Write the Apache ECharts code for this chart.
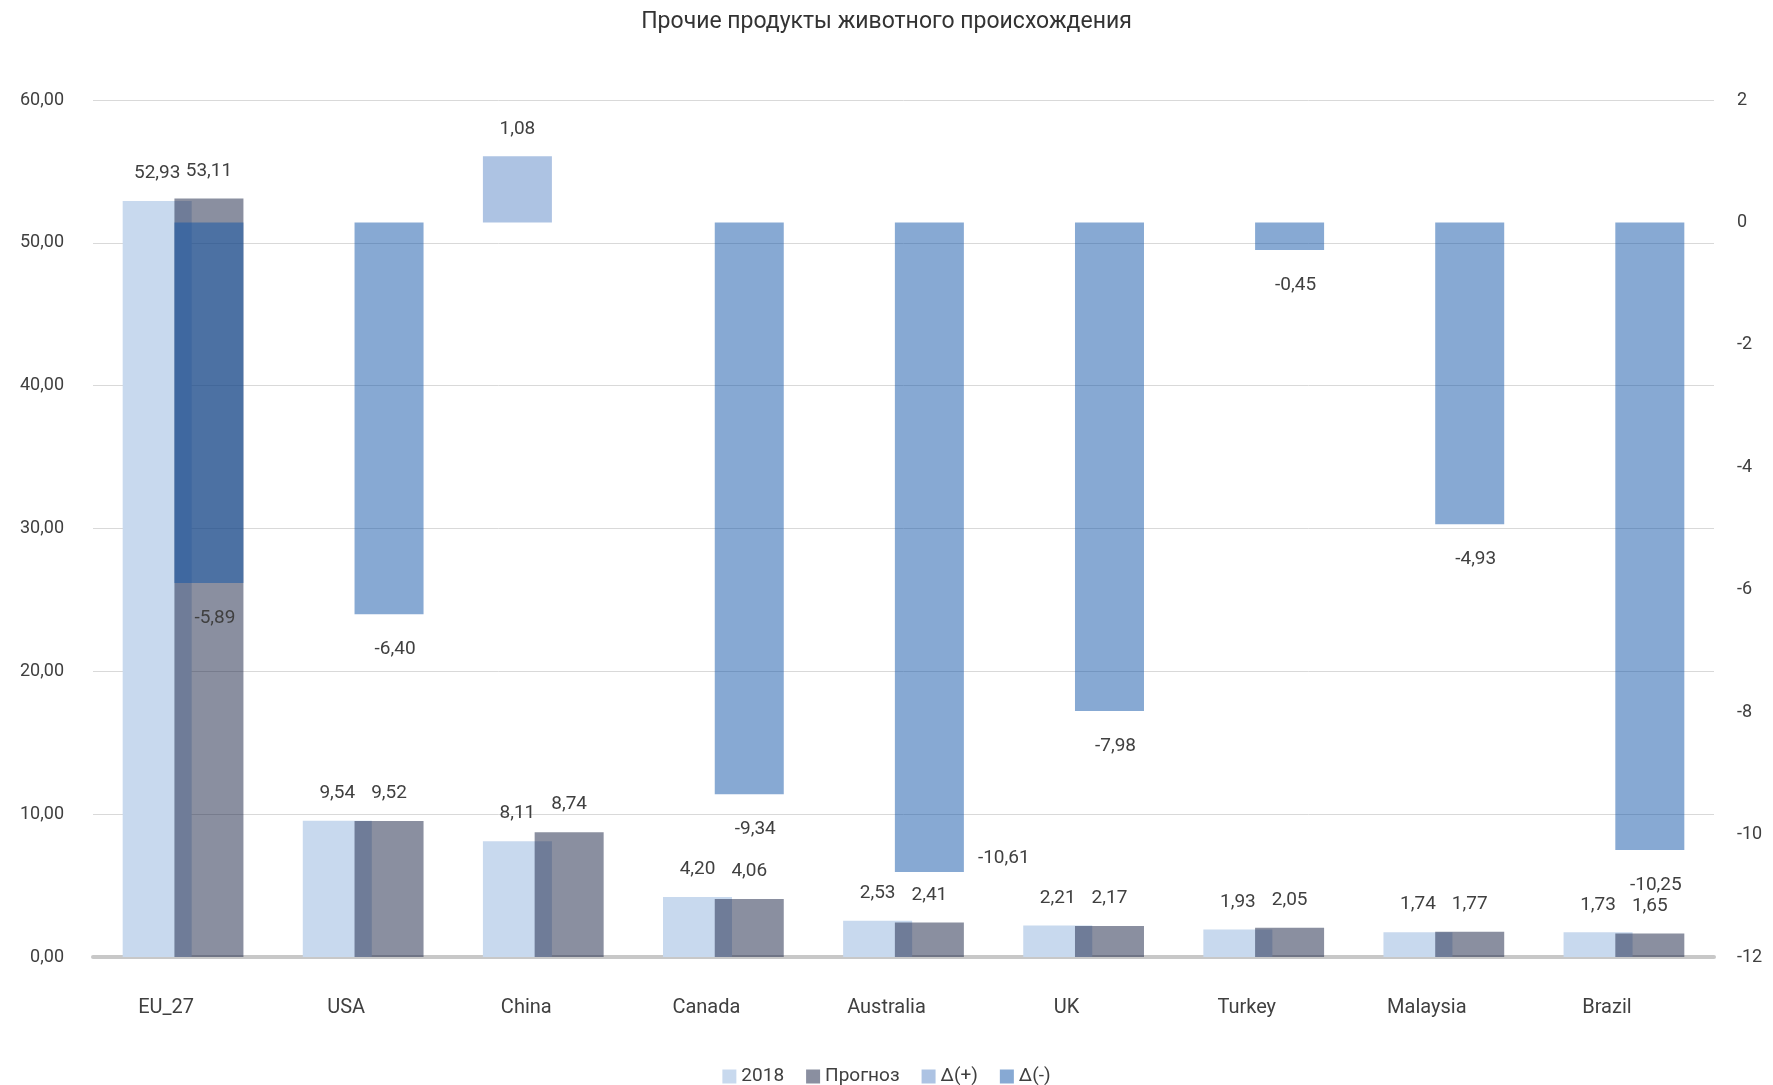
<!DOCTYPE html>
<html>
<head>
<meta charset="utf-8">
<script src="https://cdn.jsdelivr.net/npm/echarts@6/dist/echarts.min.js"></script>
<style>
  html, body { margin: 0; padding: 0; background: #fff; }
  #chart { width: 1773px; height: 1085px; }
</style>
</head>
<body>
<div id="chart"></div>
<script>
const countries = ['EU_27', 'USA', 'China', 'Canada', 'Australia', 'UK', 'Turkey', 'Malaysia', 'Brazil']
const base2018 = [52.93, 9.54, 8.11, 4.20, 2.53, 2.21, 1.93, 1.74, 1.73]
const forecast = [53.11, 9.52, 8.74, 4.06, 2.41, 2.17, 2.05, 1.77, 1.65]
const deltaPlus = ['-', '-', 1.08, '-', '-', '-', '-', '-', '-']
const deltaMinus = [-5.89, -6.40, '-', -9.34, -10.61, -7.98, -0.45, -4.93, -10.25]
const leftTicks = [0, 60, 10]
const rightTicks = [-12, 2, 2]

const fmt = v => Number(v).toFixed(2).replace('.', ',')
const textColor = '#404040'
const font = 'Roboto, "Noto Sans", sans-serif'

const labelBase = {
  show: true,
  color: textColor,
  fontSize: 19,
  fontFamily: font,
  formatter: p => fmt(p.value)
}

const chart = echarts.init(document.getElementById('chart'))

chart.setOption({
  animation: false,
  title: {
    text: 'Прочие продукты животного происхождения',
    left: 'center',
    top: 6,
    textStyle: { color: '#333', fontSize: 23, fontWeight: 'normal', fontFamily: font }
  },
  legend: {
    top: 1062,
    left: 'center',
    itemWidth: 14,
    itemHeight: 14,
    itemGap: 22,
    icon: 'rect',
    textStyle: { color: textColor, fontSize: 19, fontFamily: font },
    data: ['2018', 'Прогноз', 'Δ(+)', 'Δ(-)']
  },
  grid: { left: 93, right: 59, top: 100, bottom: 128 },
  xAxis: [
    {
      type: 'category',
      data: countries,
      axisTick: { show: false },
      axisLine: { lineStyle: { color: '#c8c8c8', width: 4 } },
      axisLabel: { color: textColor, fontSize: 20, fontFamily: font, margin: 41, padding: [0, 34, 0, 0] }
    },
    { type: 'category', data: countries, show: false }
  ],
  yAxis: [
    {
      type: 'value',
      min: leftTicks[0], max: leftTicks[1], interval: leftTicks[2],
      axisLine: { show: false },
      axisTick: { show: false },
      splitLine: { lineStyle: { color: '#d9d9d9' } },
      axisLabel: { color: textColor, fontSize: 18, fontFamily: font, margin: 29, formatter: v => fmt(v) }
    },
    {
      type: 'value',
      min: rightTicks[0], max: rightTicks[1], interval: rightTicks[2],
      axisLine: { show: false },
      axisTick: { show: false },
      splitLine: { show: false },
      axisLabel: { color: textColor, fontSize: 18, fontFamily: font, margin: 23 }
    }
  ],
  series: [
    {
      name: '2018', type: 'bar', xAxisIndex: 0, yAxisIndex: 0,
      barWidth: 69, barGap: '-25%',
      itemStyle: { color: '#c8d9ee' },
      label: { ...labelBase, position: 'top', distance: 18 },
      data: base2018
    },
    {
      name: 'Прогноз', type: 'bar', xAxisIndex: 0, yAxisIndex: 0,
      barWidth: 69, barGap: '-25%',
      itemStyle: { color: 'rgba(21,31,65,0.5)' },
      label: { ...labelBase, position: 'top', distance: 18 },
      data: forecast
    },
    {
      name: 'Δ(+)', type: 'bar', xAxisIndex: 1, yAxisIndex: 1,
      barWidth: 69, barGap: '-25%',
      itemStyle: { color: '#adc3e3' },
      label: { ...labelBase, position: 'top', distance: 18 },
      data: deltaPlus
    },
    {
      name: 'Δ(-)', type: 'bar', xAxisIndex: 1, yAxisIndex: 1,
      barWidth: 69, barGap: '-25%',
      itemStyle: { color: 'rgba(15,83,167,0.5)' },
      label: { ...labelBase, position: 'bottom', distance: 26, offset: [6, 0] },
      // Australia's label sits to the right of its bar in the original
      data: deltaMinus.map((v, i) => countries[i] === 'Australia'
        ? { value: v, label: { position: ['100%', '100%'], offset: [14, -23], distance: 0 } }
        : v)
    }
  ]
})
</script>
</body>
</html>
